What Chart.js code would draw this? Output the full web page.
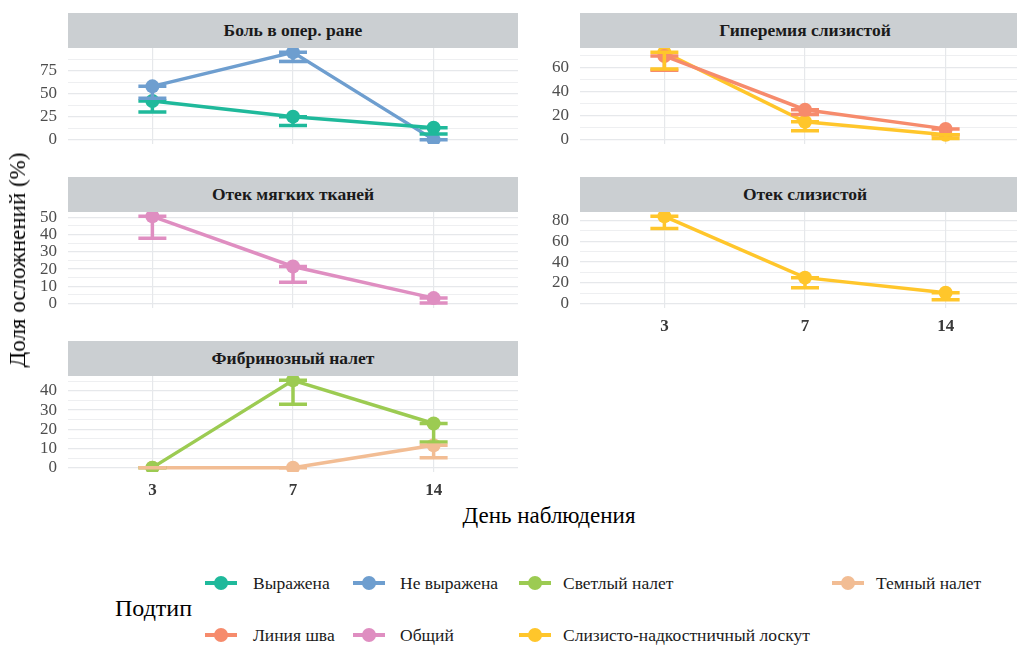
<!DOCTYPE html>
<html>
<head>
<meta charset="utf-8">
<script src="https://cdn.jsdelivr.net/npm/chart.js@4.4.1/dist/chart.umd.min.js"></script>
<style>
  body { margin: 0; width: 1017px; height: 645px; overflow: hidden; background: #fff; position: relative; font-family: "Liberation Serif", "DejaVu Serif", serif; }
  canvas { position: absolute; }
  .strip { position: absolute; width: 450px; height: 35px; background: #CBCFD2; color: #1a1a1a; font-weight: bold; font-size: 17.5px; line-height: 35px; text-align: center; font-family: "Liberation Serif", serif; }
  .ttl { position: absolute; font-size: 23px; color: #000; white-space: nowrap; font-family: "Liberation Serif", serif; }
  .leg { position: absolute; font-size: 17.5px; color: #1a1a1a; white-space: nowrap; line-height: 20px; font-family: "Liberation Serif", serif; }
  .key { position: absolute; width: 32px; height: 4px; }
  .dot { position: absolute; width: 14px; height: 14px; border-radius: 50%; }
</style>
</head>
<body>
<script>
// дни наблюдения
const days = ["3", "7", "14"];

// подтипы и цвета
const subtypes = ["Выражена", "Не выражена", "Светлый налет", "Темный налет", "Линия шва", "Общий", "Слизисто-надкостничный лоскут"];
const subtypeColors = ["#1FB99B", "#6E9ECF", "#9CCB52", "#F2BD94", "#F68B6C", "#DF8EC1", "#FFC62B"];

// Боль в опер. ране
const painStrong = [42, 25, 13];
const painStrongLow = [30, 15.5, 6];
const painWeak = [58, 95, 0];
const painWeakLow = [45, 85, 0];
const painTicks = [0, 25, 50, 75];

// Гиперемия слизистой
const hypSuture = [70, 25, 9];
const hypSutureLow = [58, 21, 4];
const hypFlap = [73, 15, 4];
const hypFlapLow = [59, 7.5, 1];
const hypTicks = [0, 20, 40, 60];

// Отек мягких тканей
const softTotal = [50.5, 21.5, 3.2];
const softTotalLow = [37.8, 12.4, 0.3];
const softTicks = [0, 10, 20, 30, 40, 50];

// Отек слизистой
const mucFlap = [84, 25, 10.5];
const mucFlapLow = [72.3, 15.4, 3.7];
const mucTicks = [0, 20, 40, 60, 80];

// Фибринозный налет
const fibLight = [0, 45.5, 23];
const fibLightLow = [0, 33, 13.4];
const fibDark = [0, 0, 11.7];
const fibDarkLow = [0, 0, 5.2];
const fibTicks = [0, 10, 20, 30, 40];

const errorBars = {
  id: "errorBars",
  afterDatasetsDraw(chart) {
    const ctx = chart.ctx;
    const a = chart.chartArea;
    const xs = chart.scales.x, ys = chart.scales.y;
    ctx.save();
    ctx.beginPath();
    ctx.rect(a.left, a.top, a.right - a.left, a.bottom - a.top);
    ctx.clip();
    chart.data.datasets.forEach(ds => {
      ds.data.forEach((p, j) => {
        const x = xs.getPixelForValue(p.x);
        const yHi = ys.getPixelForValue(p.y);
        const yLo = ys.getPixelForValue(ds.errLow[j]);
        ctx.strokeStyle = ds.borderColor;
        ctx.lineWidth = 3.5;
        ctx.beginPath();
        ctx.moveTo(x, yLo); ctx.lineTo(x, yHi);
        ctx.moveTo(x - 14, yLo); ctx.lineTo(x + 14, yLo);
        ctx.moveTo(x - 14, yHi); ctx.lineTo(x + 14, yHi);
        ctx.stroke();
      });
    });
    ctx.restore();
  }
};

function makeSeries(idx, vals, low) {
  return {
    label: subtypes[idx],
    data: vals.map((v, i) => ({ x: i + 1, y: v })),
    errLow: low,
    borderColor: subtypeColors[idx],
    backgroundColor: subtypeColors[idx],
    pointBackgroundColor: subtypeColors[idx],
    borderWidth: 3.5,
    pointRadius: 7,
    pointBorderWidth: 0,
    tension: 0,
    clip: 0
  };
}

function drawPanel(title, left, top, series, majors, showX) {
  const strip = document.createElement("div");
  strip.className = "strip";
  strip.style.left = (left + 68) + "px";
  strip.style.top = (top - 35) + "px";
  strip.textContent = title;

  // холст начинается на 12px выше, чтобы верхняя подпись не обрезалась
  const canvas = document.createElement("canvas");
  canvas.width = 518;
  canvas.height = 138;
  canvas.style.left = left + "px";
  canvas.style.top = (top - 12) + "px";
  document.body.appendChild(canvas);
  document.body.appendChild(strip);

  // пределы как в ggplot (расширение 5%)
  let lo = 0, hi = 0;
  series.forEach(s => {
    s.data.forEach(p => { hi = Math.max(hi, p.y); });
    s.errLow.forEach(v => { lo = Math.min(lo, v); });
  });
  const r = hi - lo;
  const step = majors[1] - majors[0];
  const allTicks = [];
  majors.forEach(m => { allTicks.push({ value: m }); allTicks.push({ value: m + step / 2, minor: true }); });
  allTicks.unshift({ value: majors[0] - step / 2, minor: true });

  new Chart(canvas.getContext("2d"), {
    type: "line",
    data: { datasets: series },
    options: {
      responsive: false,
      animation: false,
      devicePixelRatio: 1,
      layout: { padding: { top: 12, left: 0, right: 0, bottom: 0 }, autoPadding: false },
      plugins: { legend: { display: false }, tooltip: { enabled: false } },
      scales: {
        x: {
          type: "linear",
          min: 0.4,
          max: 3.6,
          afterBuildTicks: s => { s.ticks = [{ value: 1 }, { value: 2 }, { value: 3 }]; },
          afterFit: s => { s.height = 30; s.paddingLeft = 0; s.paddingRight = 0; },
          border: { display: false },
          grid: { color: "#E6E8EB", lineWidth: 1.2, drawTicks: false },
          ticks: {
            display: showX,
            padding: 8,
            autoSkip: false,
            maxRotation: 0,
            color: "#3a3a3a",
            font: { family: "Liberation Serif", size: 17, weight: "bold" },
            callback: v => days[v - 1]
          }
        },
        y: {
          min: lo - 0.05 * r,
          max: hi + 0.05 * r,
          afterBuildTicks: s => { s.ticks = allTicks.filter(t => t.value >= s.min && t.value <= s.max); },
          afterFit: s => { s.width = 68; s.paddingTop = 0; s.paddingBottom = 0; },
          border: { display: false },
          grid: {
            color: "#E6E8EB",
            drawTicks: false,
            lineWidth: c => (c.tick && c.tick.minor ? 0.7 : 1.2)
          },
          ticks: {
            padding: 11,
            autoSkip: false,
            color: "#4D4D4D",
            font: { family: "Liberation Serif", size: 17 },
            callback: v => (majors.includes(v) ? String(v) : "")
          }
        }
      }
    },
    plugins: [errorBars]
  });
}

drawPanel("Боль в опер. ране", 0, 48,
  [makeSeries(0, painStrong, painStrongLow), makeSeries(1, painWeak, painWeakLow)], painTicks, false);
drawPanel("Гиперемия слизистой", 512, 48,
  [makeSeries(4, hypSuture, hypSutureLow), makeSeries(6, hypFlap, hypFlapLow)], hypTicks, false);
drawPanel("Отек мягких тканей", 0, 212,
  [makeSeries(5, softTotal, softTotalLow)], softTicks, false);
drawPanel("Отек слизистой", 512, 212,
  [makeSeries(6, mucFlap, mucFlapLow)], mucTicks, true);
drawPanel("Фибринозный налет", 0, 376,
  [makeSeries(2, fibLight, fibLightLow), makeSeries(3, fibDark, fibDarkLow)], fibTicks, true);

// подписи осей
function addText(cls, txt, x, y, extra) {
  const d = document.createElement("div");
  d.className = cls;
  d.textContent = txt;
  d.style.left = x + "px";
  d.style.top = y + "px";
  if (extra) Object.assign(d.style, extra);
  document.body.appendChild(d);
  return d;
}
addText("ttl", "День наблюдения", 549, 516, { transform: "translate(-50%, -50%)" });
addText("ttl", "Доля осложнений (%)", 18, 260, { transform: "translate(-50%, -50%) rotate(-90deg)" });

// легенда
addText("ttl", "Подтип", 115, 608, { transform: "translateY(-50%)", fontSize: "24px" });
const legCols = [[221, 253], [369, 400], [535, 563], [848, 876]];
const legOrder = [[0, 4], [1, 5], [2, 6], [3]];
legOrder.forEach((col, ci) => {
  col.forEach((si, ri) => {
    const cy = ri === 0 ? 583 : 635;
    const cx = legCols[ci][0];
    const line = document.createElement("div");
    line.className = "key";
    line.style.left = (cx - 16) + "px";
    line.style.top = (cy - 2) + "px";
    line.style.background = subtypeColors[si];
    document.body.appendChild(line);
    const dot = document.createElement("div");
    dot.className = "dot";
    dot.style.left = (cx - 7) + "px";
    dot.style.top = (cy - 7) + "px";
    dot.style.background = subtypeColors[si];
    document.body.appendChild(dot);
    addText("leg", subtypes[si], legCols[ci][1], cy, { transform: "translateY(-50%)" });
  });
});
</script>
</body>
</html>
